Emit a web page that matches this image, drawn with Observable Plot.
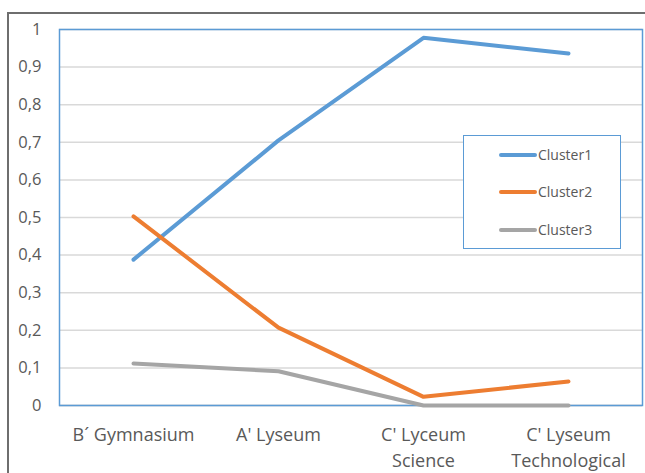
<!DOCTYPE html>
<html>
<head>
<meta charset="utf-8">
<script src="https://cdn.jsdelivr.net/npm/d3@7"></script>
<script src="https://cdn.jsdelivr.net/npm/@observablehq/plot@0.6"></script>
<style>
  body { margin: 0; background: #fff; }
  #wrap { position: relative; width: 645px; height: 473px; overflow: hidden; font-family: "Open Sans", "Liberation Sans", sans-serif; }
  #outer { position: absolute; left: 7px; top: 12px; width: 700px; height: 600px; border: 2px solid #6e6e6e; box-sizing: border-box; pointer-events: none; }
  #legend { position: absolute; left: 463px; top: 135px; width: 158px; height: 114px; border: 1.5px solid #5b9bd5; box-sizing: border-box; background: #fff; }
  .item { position: absolute; left: 35px; display: flex; align-items: center; font-size: 14px; color: #595959; }
  .sw { width: 38px; height: 4px; border-radius: 2px; margin-right: 1px; }
</style>
</head>
<body>
<div id="wrap">
  <div id="chart"></div>
  <div id="outer"></div>
  <div id="legend"></div>
</div>
<script>
const categories = ["B´ Gymnasium", "A' Lyseum", "C' Lyceum\nScience", "C' Lyseum\nTechnological"];
const seriesNames = ["Cluster1", "Cluster2", "Cluster3"];
const cluster1 = [0.388, 0.705, 0.978, 0.936];
const cluster2 = [0.503, 0.207, 0.023, 0.064];
const cluster3 = [0.112, 0.091, 0.0, 0.0];
const colors = ["#5b9bd5", "#ed7d31", "#a5a5a5"];
const yTicks = [0, 0.1, 0.2, 0.3, 0.4, 0.5, 0.6, 0.7, 0.8, 0.9, 1];

const seriesValues = [cluster1, cluster2, cluster3];
const data = [];
seriesNames.forEach((s, i) => categories.forEach((c, j) => data.push({series: s, cat: c, value: seriesValues[i][j]})));

const chart = Plot.plot({
  width: 645,
  height: 473,
  marginLeft: 59,
  marginRight: 3,
  marginTop: 29,
  marginBottom: 68,
  style: {fontFamily: "'Open Sans', 'Liberation Sans', sans-serif", background: "#fff"},
  x: {type: "point", domain: categories, padding: 0.5, axis: null},
  y: {domain: [0, 1], axis: null},
  color: {domain: seriesNames, range: colors},
  marks: [
    Plot.gridY(yTicks, {stroke: "#d9d9d9", strokeOpacity: 1, strokeWidth: 1.5}),
    Plot.ruleY([0], {stroke: "#d0d0d0", strokeWidth: 1.5}),
    Plot.frame({stroke: "#5b9bd5", strokeWidth: 1.5}),
    Plot.text(yTicks, {y: d => d, frameAnchor: "left", textAnchor: "end", dx: -18, fontSize: 16.5, fill: "#595959", text: d => String(d).replace(".", ",")}),
    Plot.text(categories, {x: d => d, frameAnchor: "bottom", lineAnchor: "top", dy: 18, fontSize: 18, fill: "#595959", lineHeight: 1.4, text: d => d}),
    Plot.line(data, {x: "cat", y: "value", z: "series", stroke: "series", strokeWidth: 4, strokeLinecap: "round", strokeLinejoin: "round"})
  ]
});
document.getElementById("chart").appendChild(chart);

const legend = document.getElementById("legend");
const rowY = [19, 56, 94];
seriesNames.forEach((s, i) => {
  const el = document.createElement("div");
  el.className = "item";
  el.style.top = (rowY[i] - 10) + "px";
  el.innerHTML = `<span class="sw" style="background:${colors[i]}"></span><span>${s}</span>`;
  legend.appendChild(el);
});
</script>
</body>
</html>
